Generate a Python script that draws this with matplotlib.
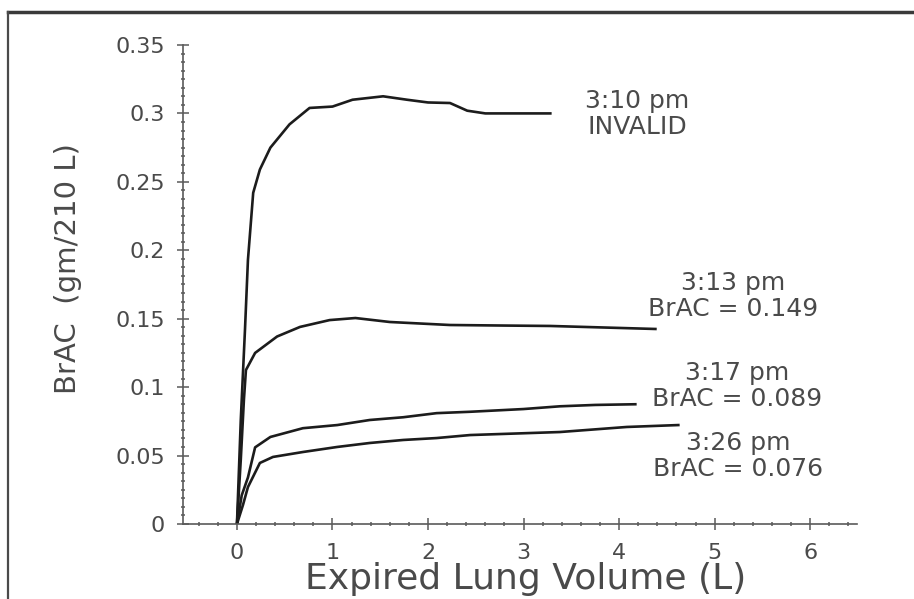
import matplotlib
matplotlib.use("Agg")
import matplotlib.pyplot as plt
from matplotlib.ticker import AutoMinorLocator
from matplotlib.lines import Line2D

# traces (volume in L, BrAC in gm/210 L)
vol_310 = [0, 0.04, 0.084, 0.115, 0.17, 0.24, 0.35, 0.55, 0.76, 1.0, 1.21, 1.53, 1.78, 2.0, 2.23, 2.41, 2.6, 2.79, 3.28]
brac_310 = [0, 0.076, 0.142, 0.193, 0.242, 0.259, 0.275, 0.292, 0.304, 0.305, 0.310, 0.3125, 0.310, 0.308, 0.3076, 0.302, 0.300, 0.300, 0.300]

vol_313 = [0, 0.04, 0.073, 0.094, 0.19, 0.42, 0.66, 0.97, 1.24, 1.6, 2.23, 2.8, 3.28, 4.38]
brac_313 = [0, 0.047, 0.091, 0.1125, 0.125, 0.137, 0.144, 0.149, 0.1505, 0.1476, 0.1454, 0.145, 0.1447, 0.1425]

vol_317 = [0, 0.05, 0.115, 0.19, 0.35, 0.69, 1.05, 1.39, 1.74, 2.09, 2.44, 3.0, 3.38, 3.75, 4.17]
brac_317 = [0, 0.021, 0.034, 0.056, 0.0636, 0.070, 0.0723, 0.076, 0.078, 0.081, 0.082, 0.084, 0.086, 0.087, 0.0875]

vol_326 = [0, 0.063, 0.115, 0.24, 0.377, 0.69, 1.05, 1.39, 1.74, 2.09, 2.44, 3.38, 4.08, 4.62]
brac_326 = [0, 0.0139, 0.027, 0.0446, 0.049, 0.0526, 0.0563, 0.0592, 0.0614, 0.0628, 0.065, 0.0672, 0.0709, 0.0723]

labels = ["3:10 pm\nINVALID", "3:13 pm\nBrAC = 0.149", "3:17 pm\nBrAC = 0.089", "3:26 pm\nBrAC = 0.076"]
label_x = [4.19, 5.19, 5.24, 5.25]
label_y = [0.2996, 0.1666, 0.1008, 0.0497]

x_ticks = [0, 1, 2, 3, 4, 5, 6]
y_ticks = [0, 0.05, 0.1, 0.15, 0.2, 0.25, 0.3, 0.35]
y_ticklabels = ["0", "0.05", "0.1", "0.15", "0.2", "0.25", "0.3", "0.35"]

text_col = "#4a4a4a"
axis_col = "#5a5a5a"

fig = plt.figure(figsize=(9.14, 5.99), dpi=100)
ax = fig.add_axes([0.2002, 0.1252, 0.7374, 0.7997])

for xs, ys in [(vol_310, brac_310), (vol_313, brac_313), (vol_317, brac_317), (vol_326, brac_326)]:
    ax.plot(xs, ys, color="#1c1c1c", linewidth=1.9, solid_joinstyle="round")

for txt, tx, ty in zip(labels, label_x, label_y):
    ax.text(tx, ty, txt, ha="center", va="center", fontsize=18,
            color=text_col, linespacing=1.15)

ax.set_xlim(-0.565, 6.49)
ax.set_ylim(0, 0.35)
ax.set_xticks(x_ticks)
ax.set_yticks(y_ticks)
ax.set_yticklabels(y_ticklabels)
ax.xaxis.set_minor_locator(AutoMinorLocator(5))
ax.yaxis.set_minor_locator(AutoMinorLocator(8))

for side in ["top", "right"]:
    ax.spines[side].set_visible(False)
for side in ["left", "bottom"]:
    ax.spines[side].set_color(axis_col)
    ax.spines[side].set_linewidth(1.2)

ax.tick_params(axis="both", which="major", direction="inout", length=8, width=1.1,
               colors=axis_col, labelsize=16, labelcolor=text_col)
ax.tick_params(axis="both", which="minor", direction="inout", length=3.5, width=1.1,
               colors=axis_col)
ax.tick_params(axis="x", which="major", pad=10)
ax.tick_params(axis="y", which="major", pad=9)

ax.set_xlabel("Expired Lung Volume (L)", fontsize=26, color=text_col)
ax.xaxis.set_label_coords(0.509, -0.08)
ax.set_ylabel("BrAC  (gm/210 L)", fontsize=21, color=text_col)
ax.yaxis.set_label_coords(-0.15, 0.534)

# border of the scanned figure
fig.add_artist(Line2D([0.0088, 1.0], [0.98, 0.98], transform=fig.transFigure,
                      color="#3a3a3a", linewidth=2.5))
fig.add_artist(Line2D([0.0088, 0.0088], [0.0, 0.98], transform=fig.transFigure,
                      color="#4a4a4a", linewidth=1.6))

fig.savefig("out.png", dpi=100)
plt.close(fig)
